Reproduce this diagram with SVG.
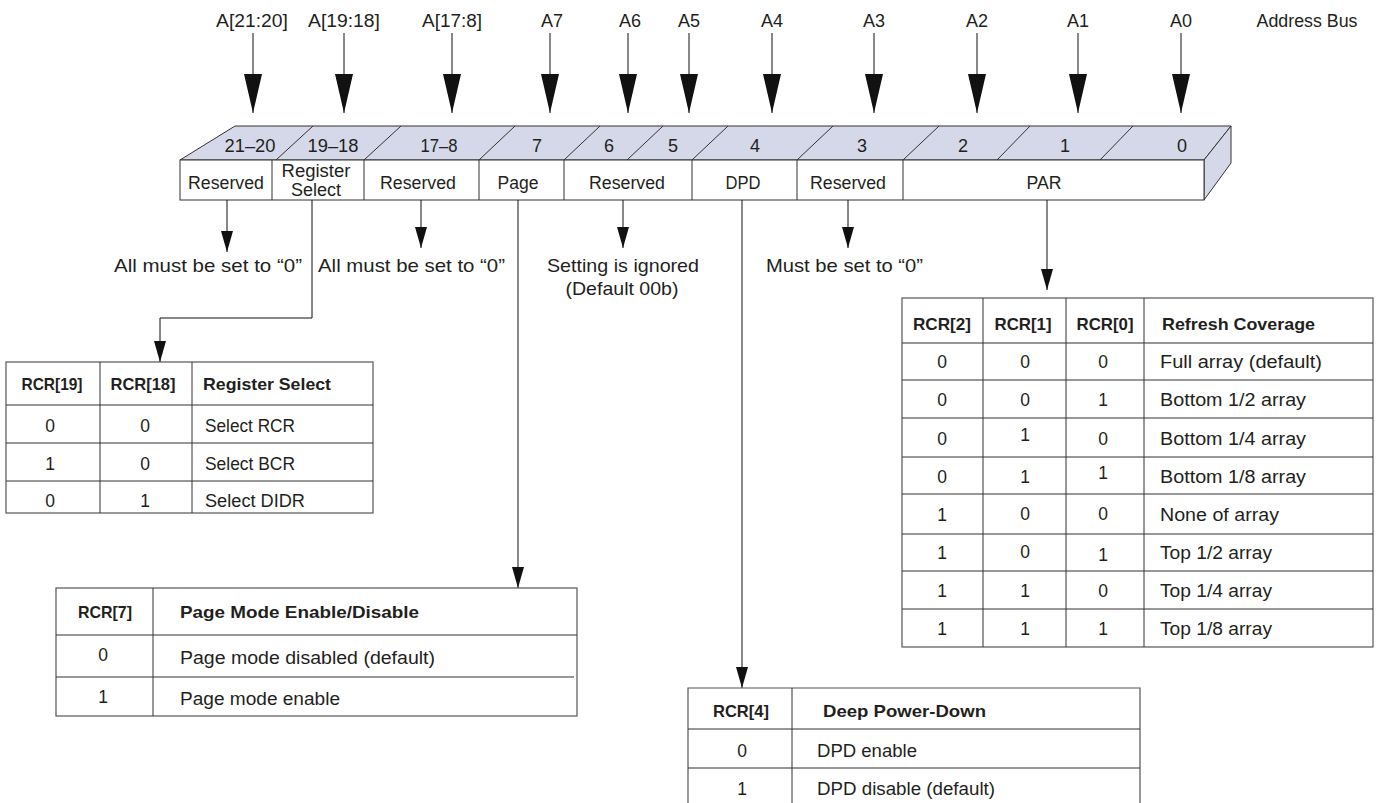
<svg xmlns="http://www.w3.org/2000/svg" width="1380" height="803" viewBox="0 0 1380 803">
<style>
text{font-family:"Liberation Sans",Arial,sans-serif;fill:#231f20}
.addr{font-size:18px;text-anchor:middle}
.num{font-size:18px;text-anchor:middle}
.fld{font-size:17.5px;text-anchor:middle}
.note{font-size:18.5px}
.mid{text-anchor:middle}
.th{font-size:16.5px;font-weight:bold}
.td{font-size:17.5px}
.face{fill:#d5d8e8;stroke:#333;stroke-width:1}
.box{fill:#fff;stroke:#333;stroke-width:1}
.ln{fill:none;stroke:#333;stroke-width:1}
.tb{fill:#fff;stroke:#555;stroke-width:1.2}
.tl{stroke:#333;stroke-width:1;fill:none}
.conn{fill:none;stroke:#111;stroke-width:1}
</style>
<defs>
<marker id="big" viewBox="0 0 39 18" markerWidth="39" markerHeight="18" refX="39" refY="9" orient="auto" markerUnits="userSpaceOnUse"><path d="M0,0 L39,9 L0,18 z" fill="#111"/></marker>
<marker id="sm" viewBox="0 0 21 12" markerWidth="21" markerHeight="12" refX="21" refY="6" orient="auto" markerUnits="userSpaceOnUse"><path d="M0,0 L21,6 L0,12 z" fill="#111"/></marker>
</defs>

<g id="address-bus">
<text class="addr" x="252" y="27" textLength="72" lengthAdjust="spacingAndGlyphs">A[21:20]</text>
<text class="addr" x="344" y="27" textLength="72" lengthAdjust="spacingAndGlyphs">A[19:18]</text>
<text class="addr" x="452" y="27" textLength="60" lengthAdjust="spacingAndGlyphs">A[17:8]</text>
<text class="addr" x="552" y="27">A7</text>
<text class="addr" x="630" y="27">A6</text>
<text class="addr" x="689" y="27">A5</text>
<text class="addr" x="772" y="27">A4</text>
<text class="addr" x="874" y="27">A3</text>
<text class="addr" x="977" y="27">A2</text>
<text class="addr" x="1078" y="27">A1</text>
<text class="addr" x="1181" y="27">A0</text>
<text class="addr" x="1307" y="27" textLength="101" lengthAdjust="spacingAndGlyphs">Address Bus</text>
</g>

<g id="register">
<polygon class="face" points="180,160 235,126 1231,126 1204,160"/>
<polygon class="face" points="1204,160 1231,126 1231,163 1204,200"/>
<rect class="box" x="180" y="160" width="1024" height="40"/>
<path class="ln" d="M276,160 L313,126 M364,160 L401,126 M479,160 L515,126 M564,160 L600,126 M627,160 L663,126 M692,160 L728,126 M797,160 L833,126 M903,160 L939,126 M997,160 L1030,126 M1100,160 L1133,126"/>
<path class="ln" d="M272,160 V200 M364,160 V200 M479,160 V200 M564,160 V200 M692,160 V200 M797,160 V200 M903,160 V200"/>
<text class="num" x="250" y="152" textLength="51" lengthAdjust="spacingAndGlyphs">21–20</text>
<text class="num" x="333" y="152" textLength="51" lengthAdjust="spacingAndGlyphs">19–18</text>
<text class="num" x="439" y="152" textLength="37" lengthAdjust="spacingAndGlyphs">17–8</text>
<text class="num" x="537" y="152">7</text>
<text class="num" x="609" y="152">6</text>
<text class="num" x="673" y="152">5</text>
<text class="num" x="755" y="152">4</text>
<text class="num" x="862" y="152">3</text>
<text class="num" x="963" y="152">2</text>
<text class="num" x="1065" y="152">1</text>
<text class="num" x="1182" y="152">0</text>
<text class="fld" x="226" y="189" textLength="76" lengthAdjust="spacingAndGlyphs">Reserved</text>
<text class="fld" x="316" y="177" textLength="69" lengthAdjust="spacingAndGlyphs">Register</text>
<text class="fld" x="316" y="196" textLength="50" lengthAdjust="spacingAndGlyphs">Select</text>
<text class="fld" x="418" y="189" textLength="76" lengthAdjust="spacingAndGlyphs">Reserved</text>
<text class="fld" x="518" y="189" textLength="41" lengthAdjust="spacingAndGlyphs">Page</text>
<text class="fld" x="627" y="189" textLength="76" lengthAdjust="spacingAndGlyphs">Reserved</text>
<text class="fld" x="743" y="189" textLength="35" lengthAdjust="spacingAndGlyphs">DPD</text>
<text class="fld" x="848" y="189" textLength="76" lengthAdjust="spacingAndGlyphs">Reserved</text>
<text class="fld" x="1044" y="189" textLength="35" lengthAdjust="spacingAndGlyphs">PAR</text>
</g>

<g id="notes">
<text class="note" x="114" y="272" textLength="188" lengthAdjust="spacingAndGlyphs">All must be set to “0”</text>
<text class="note" x="318" y="272" textLength="187" lengthAdjust="spacingAndGlyphs">All must be set to “0”</text>
<text class="note mid" x="623" y="272" textLength="152" lengthAdjust="spacingAndGlyphs">Setting is ignored</text>
<text class="note mid" x="622" y="295" textLength="113" lengthAdjust="spacingAndGlyphs">(Default 00b)</text>
<text class="note" x="766" y="272" textLength="157" lengthAdjust="spacingAndGlyphs">Must be set to “0”</text>
</g>

<g id="connectors">
<path class="conn" marker-end="url(#big)" d="M253,33 V113"/>
<path class="conn" marker-end="url(#big)" d="M344,33 V113"/>
<path class="conn" marker-end="url(#big)" d="M452,33 V113"/>
<path class="conn" marker-end="url(#big)" d="M550,33 V113"/>
<path class="conn" marker-end="url(#big)" d="M628,33 V113"/>
<path class="conn" marker-end="url(#big)" d="M689,33 V113"/>
<path class="conn" marker-end="url(#big)" d="M772,33 V113"/>
<path class="conn" marker-end="url(#big)" d="M874,33 V113"/>
<path class="conn" marker-end="url(#big)" d="M977,33 V113"/>
<path class="conn" marker-end="url(#big)" d="M1078,33 V113"/>
<path class="conn" marker-end="url(#big)" d="M1181,33 V113"/>
<path class="conn" marker-end="url(#sm)" d="M227,200 V252"/>
<path class="conn" marker-end="url(#sm)" d="M312,200 V318 H160 V362"/>
<path class="conn" marker-end="url(#sm)" d="M421,200 V248"/>
<path class="conn" marker-end="url(#sm)" d="M518,200 V588"/>
<path class="conn" marker-end="url(#sm)" d="M623,200 V248"/>
<path class="conn" marker-end="url(#sm)" d="M742,200 V688"/>
<path class="conn" marker-end="url(#sm)" d="M848,200 V248"/>
<path class="conn" marker-end="url(#sm)" d="M1047,200 V290"/>
</g>

<g id="table-register-select">
<rect class="tb" x="6" y="362" width="367" height="151"/>
<path class="tl" d="M100,362 V513 M192,362 V513 M6,405 H373 M6,443 H373 M6,481 H373"/>
<text class="th mid" x="52" y="390" textLength="61" lengthAdjust="spacingAndGlyphs">RCR[19]</text>
<text class="th mid" x="143" y="390" textLength="65" lengthAdjust="spacingAndGlyphs">RCR[18]</text>
<text class="th" x="203" y="390" textLength="128" lengthAdjust="spacingAndGlyphs">Register Select</text>
<text class="td mid" x="50" y="432">0</text><text class="td mid" x="145" y="432">0</text>
<text class="td" x="205" y="432" textLength="90" lengthAdjust="spacingAndGlyphs">Select RCR</text>
<text class="td mid" x="50" y="470">1</text><text class="td mid" x="145" y="470">0</text>
<text class="td" x="205" y="470" textLength="90" lengthAdjust="spacingAndGlyphs">Select BCR</text>
<text class="td mid" x="50" y="507">0</text><text class="td mid" x="145" y="507">1</text>
<text class="td" x="205" y="507" textLength="100" lengthAdjust="spacingAndGlyphs">Select DIDR</text>
</g>

<g id="table-page-mode">
<rect class="tb" x="56" y="588" width="521" height="128"/>
<path class="tl" d="M153,588 V716 M56,635 H577 M56,677 H574"/>
<text class="th mid" x="105" y="618" textLength="54" lengthAdjust="spacingAndGlyphs">RCR[7]</text>
<text class="th" x="180" y="618" textLength="239" lengthAdjust="spacingAndGlyphs">Page Mode Enable/Disable</text>
<text class="td mid" x="103" y="661">0</text>
<text class="td" x="180" y="664" textLength="255" lengthAdjust="spacingAndGlyphs">Page mode disabled (default)</text>
<text class="td mid" x="103" y="703">1</text>
<text class="td" x="180" y="705" textLength="160" lengthAdjust="spacingAndGlyphs">Page mode enable</text>
</g>

<g id="table-dpd">
<path class="tb" d="M688,803 V688 H1140 V803"/>
<path class="tl" d="M792,688 V803 M688,729 H1140 M688,768 H1140"/>
<text class="th mid" x="741" y="717" textLength="56" lengthAdjust="spacingAndGlyphs">RCR[4]</text>
<text class="th" x="823" y="717" textLength="163" lengthAdjust="spacingAndGlyphs">Deep Power-Down</text>
<text class="td mid" x="742" y="757">0</text>
<text class="td" x="817" y="757" textLength="100" lengthAdjust="spacingAndGlyphs">DPD enable</text>
<text class="td mid" x="742" y="795">1</text>
<text class="td" x="817" y="795" textLength="178" lengthAdjust="spacingAndGlyphs">DPD disable (default)</text>
</g>

<g id="table-refresh">
<rect class="tb" x="902" y="298" width="471" height="349"/>
<path class="tl" d="M983,298 V647 M1066,298 V647 M1144,298 V647 M902,343 H1373 M902,380 H1373 M902,418 H1373 M902,457 H1373 M902,494 H1373 M902,534 H1373 M902,571 H1373 M902,609 H1373"/>
<text class="th mid" x="942" y="330" textLength="58" lengthAdjust="spacingAndGlyphs">RCR[2]</text>
<text class="th mid" x="1023" y="330" textLength="57" lengthAdjust="spacingAndGlyphs">RCR[1]</text>
<text class="th mid" x="1105" y="330" textLength="57" lengthAdjust="spacingAndGlyphs">RCR[0]</text>
<text class="th" x="1162" y="330" textLength="153" lengthAdjust="spacingAndGlyphs">Refresh Coverage</text>
<text class="td mid" x="942" y="368">0</text><text class="td mid" x="1025" y="368">0</text><text class="td mid" x="1103" y="368">0</text>
<text class="td" x="1160" y="368" textLength="162" lengthAdjust="spacingAndGlyphs">Full array (default)</text>
<text class="td mid" x="942" y="406">0</text><text class="td mid" x="1025" y="406">0</text><text class="td mid" x="1103" y="406">1</text>
<text class="td" x="1160" y="406" textLength="146" lengthAdjust="spacingAndGlyphs">Bottom 1/2 array</text>
<text class="td mid" x="942" y="445">0</text><text class="td mid" x="1025" y="441">1</text><text class="td mid" x="1103" y="445">0</text>
<text class="td" x="1160" y="445" textLength="146" lengthAdjust="spacingAndGlyphs">Bottom 1/4 array</text>
<text class="td mid" x="942" y="483">0</text><text class="td mid" x="1025" y="483">1</text><text class="td mid" x="1103" y="479">1</text>
<text class="td" x="1160" y="483" textLength="146" lengthAdjust="spacingAndGlyphs">Bottom 1/8 array</text>
<text class="td mid" x="942" y="521">1</text><text class="td mid" x="1025" y="520">0</text><text class="td mid" x="1103" y="520">0</text>
<text class="td" x="1160" y="521" textLength="119" lengthAdjust="spacingAndGlyphs">None of array</text>
<text class="td mid" x="942" y="559">1</text><text class="td mid" x="1025" y="558">0</text><text class="td mid" x="1103" y="561">1</text>
<text class="td" x="1160" y="559" textLength="112" lengthAdjust="spacingAndGlyphs">Top 1/2 array</text>
<text class="td mid" x="942" y="597">1</text><text class="td mid" x="1025" y="597">1</text><text class="td mid" x="1103" y="597">0</text>
<text class="td" x="1160" y="597" textLength="112" lengthAdjust="spacingAndGlyphs">Top 1/4 array</text>
<text class="td mid" x="942" y="635">1</text><text class="td mid" x="1025" y="635">1</text><text class="td mid" x="1103" y="635">1</text>
<text class="td" x="1160" y="635" textLength="112" lengthAdjust="spacingAndGlyphs">Top 1/8 array</text>
</g>
</svg>
